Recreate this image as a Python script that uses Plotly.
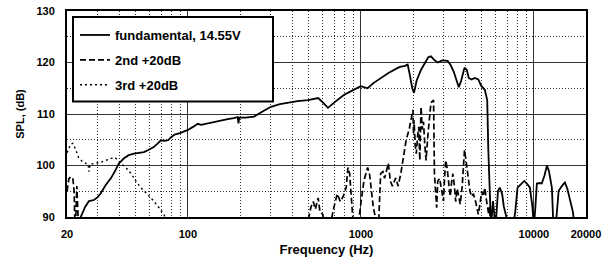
import plotly.graph_objects as go

# ---- data ----
fund_f = [20, 22, 24, 25.5, 26.8, 28.6, 30, 31.2, 33.5, 36, 38, 39.9, 42.7, 45.5, 48.8, 52, 55.7, 59, 63.5, 67,
          69.9, 73, 76.8, 80, 83.7, 90, 100, 107, 114, 119, 130, 140, 155, 170, 184, 194, 196, 198, 215, 241,
          270, 302, 340, 378, 430, 494, 530, 566, 600, 645, 700, 750, 796, 850, 906, 960, 996, 1040, 1093, 1180,
          1300, 1450, 1643, 1700, 1780, 1863, 1920, 1980, 2027, 2100, 2226, 2350, 2450, 2540, 2650, 2780, 2950,
          3170, 3300, 3440, 3560, 3680, 3800, 3970, 4100, 4200, 4360, 4550, 4770, 4950, 5200, 5370, 5450, 5580,
          5650, 5800, 5900, 6000, 6200, 6350, 6550, 6700, 6900, 7100, 7500, 7800, 8040, 8400, 8790, 9100, 9480,
          9800, 9990, 10200, 10400, 10800, 11100, 11500, 11900, 12200, 12700, 12900, 13100, 13500, 13900, 14500,
          15100, 15600, 16200, 16800, 17200, 18000, 20000]
fund_db = [84, 86, 90, 92, 93.1, 93.3, 93.8, 94.5, 96.2, 97.6, 99, 100.4, 101.4, 102, 102.3, 102.4, 102.6, 103, 103.6, 104.3,
           104.9, 104.8, 104.9, 105.5, 106, 106.3, 106.9, 107.5, 108.1, 107.9, 108.2, 108.4, 108.8, 109, 109.2, 109.4, 108.2, 109.3, 109.3, 109.5,
           110.5, 111.4, 111.9, 112.2, 112.5, 112.7, 112.9, 113.1, 112.3, 111.2, 112.2, 113, 113.7, 114.2, 114.7, 115.1, 115.4, 115.2, 115, 116,
           117, 118, 119, 119.2, 119.3, 119.6, 117.5, 115, 114.1, 116.5, 118.6, 120, 121, 121.2, 120.5, 120, 120.4,
           120.3, 119.5, 118.2, 116.5, 115.2, 116.5, 119, 118.5, 117, 116.7, 117, 116.7, 115.5, 114.7, 112.7, 103, 90,
           88, 93.1, 89, 88, 95.1, 95.7, 94.5, 92, 90.3, 88, 87, 91, 95.7, 96.3, 97, 96.5, 95.7,
           92, 88, 92, 96.5, 96.6, 96.5, 98, 100, 99, 95.7, 90, 87, 90, 95.1, 96,
           96.7, 95.5, 93.1, 91, 88, 85, 85]

h2_f = [20, 20.5, 21, 21.6, 22, 22.3, 22.8, 23.1, 23.5, 480, 500, 515, 530, 545, 566, 580, 602, 620, 670, 696,
        715, 730, 760, 790, 822, 841, 860, 875, 890, 906, 950, 996, 1020, 1040, 1070, 1093, 1120, 1150, 1180, 1230,
        1260, 1300, 1340, 1370, 1410, 1440, 1480, 1520, 1590, 1640, 1700, 1760, 1825, 1900, 1950, 2000, 2015, 2027,
        2060, 2090, 2130, 2160, 2190, 2210, 2226, 2260, 2300, 2340, 2380, 2440, 2500, 2540, 2630, 2660, 2740, 2780,
        2850, 2920, 3000, 3050, 3090, 3150, 3230, 3280, 3350, 3400, 3470, 3530, 3600, 3680, 3750, 3850, 3970, 4050,
        4170, 4270, 4360, 4470, 4600, 4770, 4880, 4990, 5100, 5200, 5330, 5480, 5550, 5650, 5700]
h2_db = [95, 97.4, 97.8, 97.6, 95, 86, 96, 91, 85, 84, 90, 92, 93, 91.5, 93.7, 91, 90.5, 88, 89, 91.7,
         93.5, 94.5, 93, 94, 95.7, 99.6, 98.5, 95, 93, 88, 87, 91.8, 95, 97, 98.5, 99.6, 98.5, 95, 91.8, 89,
         87, 98.4, 98.8, 97.5, 99, 100.4, 97, 96, 97.6, 96, 98.4, 102, 104.9, 107, 108.8, 110.8, 106, 108.8,
         104, 102.3, 106, 107.5, 101, 106, 111.4, 107, 108.5, 104, 101, 106, 110, 112.2, 112.7, 98.4, 91.8, 97,
         97.5, 95, 93.1, 98, 101, 99.5, 96, 94, 97, 98.4, 96, 93, 95.5, 94, 92.5, 96, 103, 101,
         97.6, 95, 94, 94.5, 93, 90.5, 92.5, 95, 94, 95.7, 93, 90.5, 92, 88, 80]

h3_f = [20, 20.5, 21, 21.6, 22.4, 23.3, 24.5, 25.8, 26.5, 26.8, 27.2, 28.6, 31.2, 33.5, 36, 37.5, 39, 41, 44,
        47, 50, 53.4, 58, 63.5, 68, 72.6, 75, 80]
h3_db = [102.5, 103.5, 104.1, 104.3, 103.2, 101.6, 100.8, 100.4, 100.3, 98.8, 100.2, 100.4, 100.6, 101, 101.4,
         101.6, 101.2, 100.4, 99.5, 98.4, 97, 95.7, 94.5, 93.1, 91.8, 90.5, 89.5, 88]

x_ticks = [20, 100, 1000, 10000, 20000]
x_minor = [30, 40, 50, 60, 70, 80, 90, 200, 300, 400, 500, 600, 700, 800, 900,
           2000, 3000, 4000, 5000, 6000, 7000, 8000, 9000]
y_ticks = [90, 100, 110, 120, 130]

FONT = "Liberation Sans, Arial, sans-serif"

fig = go.Figure()
fig.add_trace(go.Scatter(x=fund_f, y=fund_db, mode="lines", name="fundamental, 14.55V",
                         legendgroup="a", line=dict(color="black", width=1.8)))
fig.add_trace(go.Scatter(x=h2_f, y=h2_db, mode="lines", name="2nd +20dB",
                         legendgroup="b", line=dict(color="black", width=1.7, dash="6px,3px")))
fig.add_trace(go.Scatter(x=h3_f, y=h3_db, mode="lines", name="3rd +20dB",
                         legendgroup="c", line=dict(color="black", width=1.4, dash="2px,3px")))

L, R, T, B = 67, 22, 11, 46
W, H = 608, 263
pw, ph = W - L - R, H - T - B

def px_x(p):
    return (p - L) / pw

def px_y(p):
    return (H - B - p) / ph

fig.add_shape(type="rect", xref="paper", yref="paper",
              x0=px_x(73), x1=px_x(273), y0=px_y(101.5), y1=px_y(17),
              fillcolor="white", line=dict(color="black", width=2), layer="above")

fig.update_layout(
    width=W, height=H,
    margin=dict(l=L, r=R, t=T, b=B, autoexpand=False),
    paper_bgcolor="white", plot_bgcolor="white",
    font=dict(family=FONT, color="black"),
    showlegend=True,
    legend=dict(x=px_x(75), y=px_y(20), xanchor="left", yanchor="top",
                bgcolor="rgba(0,0,0,0)", borderwidth=0,
                font=dict(size=13, family=FONT, color="black", weight="bold"),
                tracegroupgap=5, itemwidth=30),
    xaxis=dict(type="log", range=[1.30103, 4.30103], automargin=False,
               tickmode="array", tickvals=x_ticks, ticktext=[str(v) for v in x_ticks],
               tickfont=dict(size=11, family=FONT, weight="bold"),
               ticks="", ticklabelstandoff=6,
               showgrid=True, gridcolor="#333", gridwidth=1,
               minor=dict(tickmode="array", tickvals=x_minor, showgrid=True,
                          gridcolor="#333", gridwidth=1, griddash="1px,2px", ticks=""),
               showline=True, linecolor="black", linewidth=2, mirror=True, zeroline=False,
               title=dict(text="Frequency (Hz)", font=dict(size=13, family=FONT, weight="bold"), standoff=6)),
    yaxis=dict(range=[90, 130], tickmode="array", tickvals=y_ticks, automargin=False,
               tickfont=dict(size=11, family=FONT, weight="bold"),
               ticks="", ticklabelstandoff=8,
               showgrid=True, gridcolor="#333", gridwidth=1,
               minor=dict(dtick=5, showgrid=True, gridcolor="#333", gridwidth=1, griddash="1px,2px", ticks=""),
               showline=True, linecolor="black", linewidth=2, mirror=True, zeroline=False,
               title=dict(text="SPL, (dB)", font=dict(size=11, family=FONT, weight="bold"), standoff=10)),
)

fig.write_html("out.html", config={"displayModeBar": False},
               post_script="document.body.style.margin='0';document.body.style.overflow='hidden';")
